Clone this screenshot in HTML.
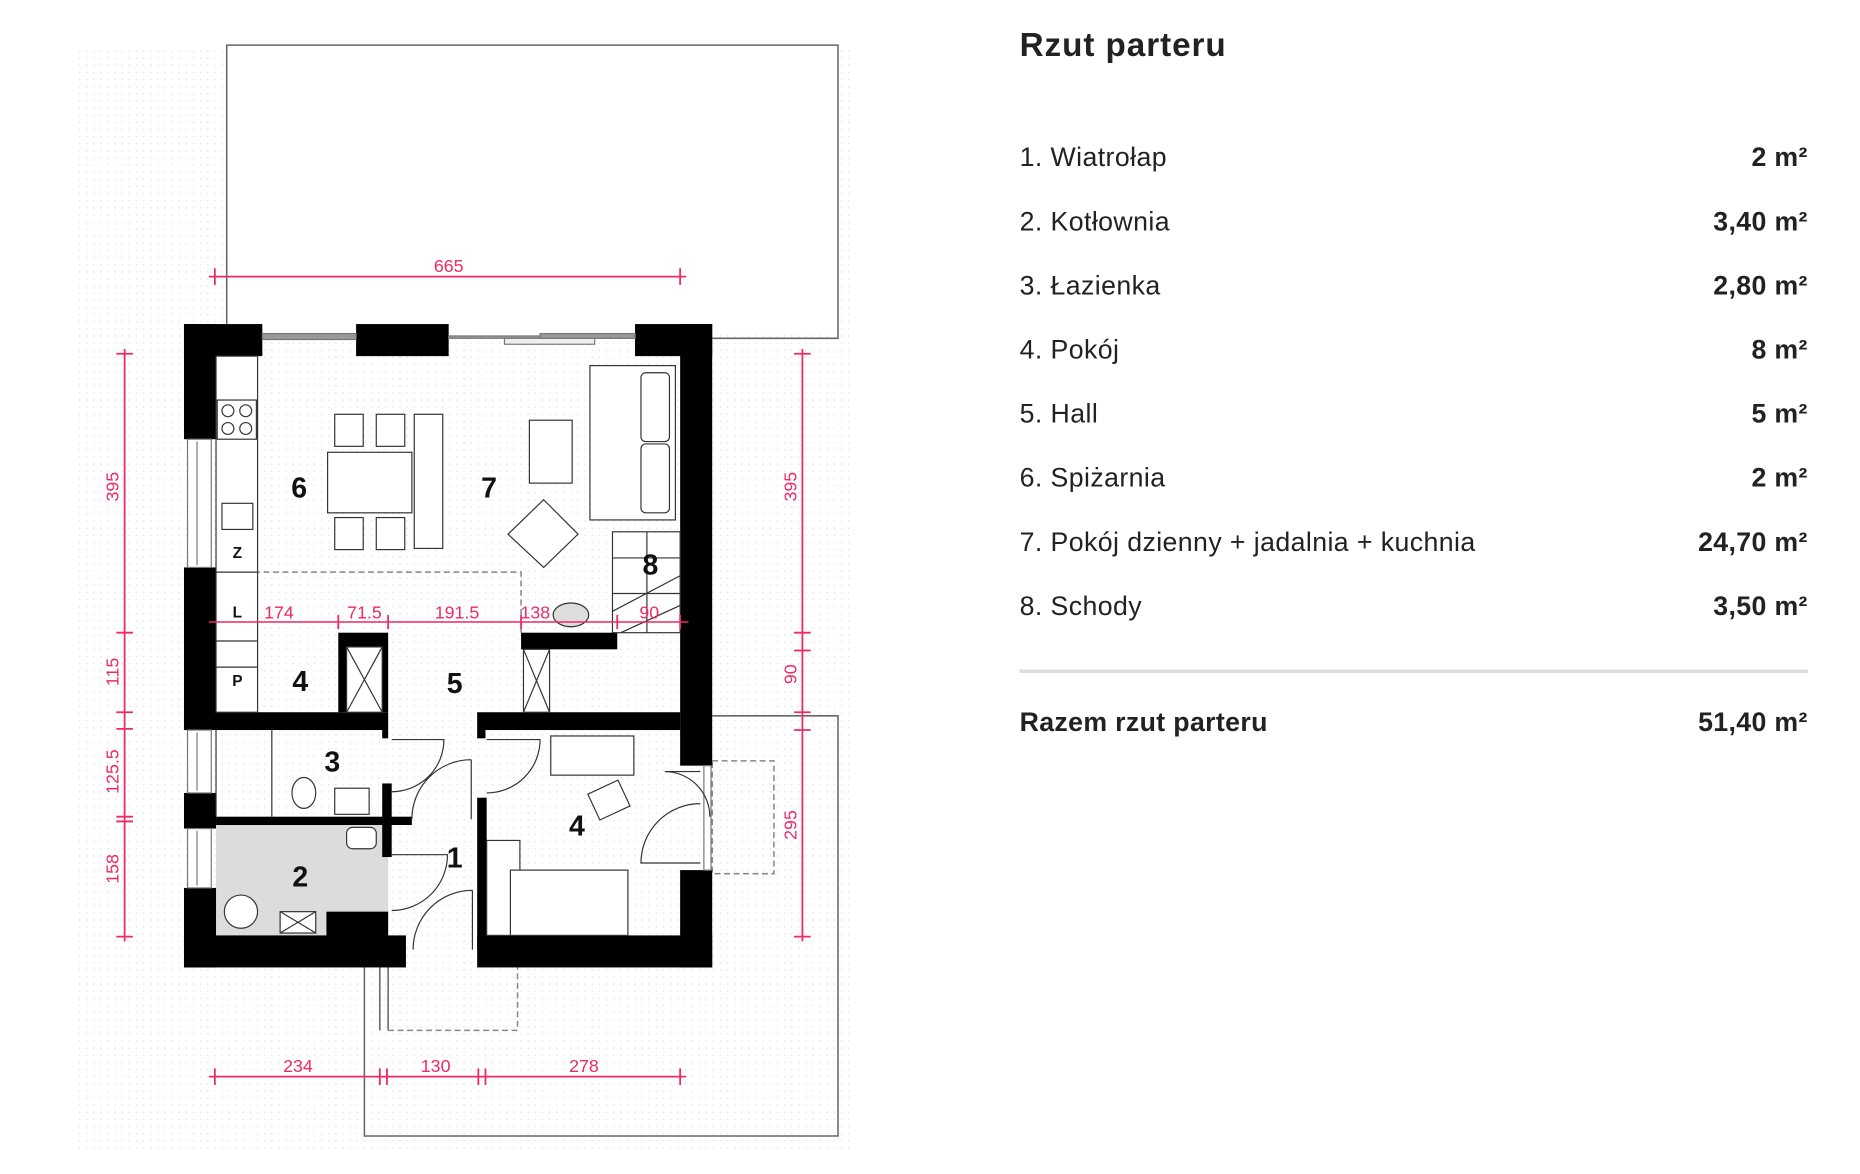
<!DOCTYPE html>
<html><head><meta charset="utf-8"><style>
html,body{margin:0;padding:0;background:#fff;width:1860px;height:1174px;overflow:hidden}
svg{display:block}
.num{font-family:"Liberation Sans",sans-serif;font-weight:bold;font-size:24px;fill:#111}
.dim{font-family:"Liberation Sans",sans-serif;font-size:15px;fill:#ec2a64}
.t{font-family:"Liberation Sans",sans-serif;font-size:22.5px;letter-spacing:0.35px;fill:#222}
.tb{font-family:"Liberation Sans",sans-serif;font-size:22.5px;letter-spacing:0.3px;fill:#222;font-weight:bold}
</style></head><body>
<svg width="1860" height="1174" viewBox="0 0 1567 989" preserveAspectRatio="none" xmlns="http://www.w3.org/2000/svg">
<defs><pattern id="dots" width="6" height="6" patternUnits="userSpaceOnUse"><circle cx="1" cy="1" r="0.6" fill="#d8dcf2"/></pattern></defs>
<rect x="65" y="40" width="655" height="930" fill="url(#dots)"/>
<rect x="191" y="38" width="515" height="240" fill="#fff"/>
<g fill="none" stroke="#666" stroke-width="1.3">
<polyline points="191,273 191,38 706,38 706,285 600,285"/>
<polyline points="600,603 706,603 706,957 307,957 307,815"/>
<line x1="320" y1="815" x2="320" y2="868"/><line x1="327" y1="815" x2="327" y2="868"/>
</g>
<g fill="none" stroke="#888" stroke-width="1.3" stroke-dasharray="5,3">
<polyline points="327,868 436,868 436,815"/>
<rect x="600" y="641" width="52" height="95"/>
<polyline points="182,482 439,482 439,533"/>
</g>
<rect x="182" y="695" width="145" height="93" fill="#dcdcdc"/>
<g fill="#000">
<rect x="155" y="273" width="27" height="97"/>
<rect x="155" y="478" width="27" height="137"/>
<rect x="155" y="668" width="27" height="30"/>
<rect x="155" y="748" width="27" height="67"/>
<rect x="155" y="273" width="66" height="27"/>
<rect x="300" y="273" width="78" height="27"/>
<rect x="535" y="273" width="65" height="27"/>
<rect x="573" y="273" width="27" height="372"/>
<rect x="573" y="733" width="27" height="82"/>
<rect x="155" y="788" width="187" height="27"/>
<rect x="402" y="788" width="198" height="27"/>
<rect x="275" y="768" width="52" height="22"/>
<rect x="155" y="600" width="172" height="15"/>
<rect x="322" y="615" width="5" height="7"/>
<rect x="402" y="600" width="171" height="15"/>
<rect x="402" y="615" width="7" height="7"/>
<rect x="285" y="533" width="42" height="67"/>
<rect x="439" y="533" width="81" height="14"/>
<rect x="182" y="688" width="165" height="7"/>
<rect x="322" y="660" width="8" height="62"/>
<rect x="402" y="672" width="8" height="128"/>
</g>
<rect x="292" y="545" width="30" height="55" fill="#fff" stroke="#333"/>
<path d="M292,545 L322,600 M322,545 L292,600" stroke="#333"/>
<rect x="441" y="547" width="22" height="53" fill="#fff" stroke="#333"/>
<path d="M441,547 L463,600 M463,547 L441,600" stroke="#333"/>
<g stroke="#777" fill="#fff" stroke-width="1">
<rect x="158" y="370" width="20" height="108"/><line x1="166" y1="372" x2="166" y2="476"/>
<rect x="158" y="615" width="20" height="53"/><line x1="166" y1="617" x2="166" y2="666"/>
<rect x="158" y="698" width="20" height="50"/><line x1="166" y1="700" x2="166" y2="746"/>
<rect x="221" y="281" width="79" height="5" fill="#999"/>
<rect x="378" y="283" width="157" height="2" fill="#999"/>
<rect x="425" y="285" width="76" height="5" fill="#eee"/>
<rect x="455" y="281" width="80" height="4" fill="#999"/>
<rect x="593" y="645" width="6" height="88"/>
</g>
<g fill="#fff" stroke="#333" stroke-width="1">
<rect x="182" y="300" width="35" height="182"/>
<rect x="183" y="337" width="33" height="33"/>
<circle cx="192" cy="346" r="5"/><circle cx="207" cy="346" r="5"/><circle cx="192" cy="361" r="5"/><circle cx="207" cy="361" r="5"/>
<rect x="187" y="424" width="26" height="22"/>
<rect x="182" y="482" width="35" height="118"/>
<line x1="182" y1="540" x2="217" y2="540"/><line x1="182" y1="562" x2="217" y2="562"/>
<rect x="276" y="381" width="71" height="51"/>
<rect x="282" y="349" width="24" height="27"/><rect x="317" y="349" width="24" height="27"/>
<rect x="282" y="436" width="24" height="27"/><rect x="317" y="436" width="24" height="27"/>
<rect x="349" y="349" width="24" height="113"/>
<rect x="446" y="354" width="36" height="53"/>
<rect x="497" y="308" width="72" height="130"/>
<rect x="540" y="314" width="24" height="58" rx="4"/><rect x="540" y="374" width="24" height="58" rx="4"/>
<polygon points="458,421 487,450 458,478 428,450"/>
<rect x="516" y="448" width="57" height="85"/>
<path d="M516,470 L573,470 M516,500 L573,500 M545,448 L545,533 M516,515 L573,485 M523,533 L573,510" fill="none"/>
<ellipse cx="481" cy="518" rx="15" ry="10" fill="#ddd"/>
<path d="M182,615 L182,688 M229,615 L229,688"/>
<ellipse cx="256" cy="668" rx="10" ry="13"/>
<rect x="282" y="664" width="29" height="22"/>
<rect x="292" y="697" width="25" height="18" rx="5"/>
<circle cx="203" cy="768" r="14"/>
<rect x="236" y="768" width="30" height="18"/><path d="M236,768 L266,786 M266,768 L236,786"/>
<rect x="464" y="620" width="70" height="33"/>
<rect x="499" y="662" width="28" height="24" transform="rotate(-25 513 674)"/>
<rect x="410" y="708" width="28" height="80"/>
<rect x="430" y="733" width="99" height="55"/>
</g>
<g fill="none" stroke="#333" stroke-width="1">
<path d="M330,623 L374,623 A44,44 0 0 1 330,667"/>
<path d="M397,640 L397,690 M397,640 A50,50 0 0 0 347,690"/>
<path d="M410,623 L455,623 A45,45 0 0 1 410,668"/>
<path d="M330,720 L377,720 A47,47 0 0 1 330,767"/>
<path d="M398,750 L398,800 M398,750 A50,50 0 0 0 348,800"/>
<path d="M590,650 L560,650 A38,38 0 0 1 598,688 M590,727 L540,727 A50,50 0 0 1 590,677"/>
</g>
<g stroke="#ec2a64" stroke-width="1.5" fill="none">
<line x1="176" y1="233" x2="578" y2="233"/><path d="M181,226v14M573,226v14"/>
<line x1="105" y1="294" x2="105" y2="793"/>
<path d="M98,298h14M98,533h14M98,600h14M98,614h14M98,688h14M98,692h14M98,789h14"/>
<line x1="676" y1="294" x2="676" y2="793"/>
<path d="M669,298h14M669,533h14M669,548h14M669,600h14M669,615h14M669,789h14"/>
<line x1="176" y1="907" x2="578" y2="907"/>
<path d="M181,900v14M320,900v14M326,900v14M403,900v14M409,900v14M573,900v14"/>
<line x1="176" y1="524" x2="580" y2="524" stroke-width="1.2"/>
<path d="M285,518v12M327,518v12M439,518v12M520,518v12M573,518v12"/>
</g>
<g class="dim">
<text x="378" y="229" text-anchor="middle">665</text>
<text x="251" y="903" text-anchor="middle">234</text>
<text x="367" y="903" text-anchor="middle">130</text>
<text x="492" y="903" text-anchor="middle">278</text>
<text x="235" y="521" text-anchor="middle">174</text>
<text x="307" y="521" text-anchor="middle">71.5</text>
<text x="385" y="521" text-anchor="middle">191.5</text>
<text x="451" y="521" text-anchor="middle">138</text>
<text x="547" y="521" text-anchor="middle">90</text>
<text transform="translate(100,410) rotate(-90)" text-anchor="middle">395</text>
<text transform="translate(100,566) rotate(-90)" text-anchor="middle">115</text>
<text transform="translate(100,650) rotate(-90)" text-anchor="middle">125.5</text>
<text transform="translate(100,732) rotate(-90)" text-anchor="middle">158</text>
<text transform="translate(671,410) rotate(-90)" text-anchor="middle">395</text>
<text transform="translate(671,568) rotate(-90)" text-anchor="middle">90</text>
<text transform="translate(671,695) rotate(-90)" text-anchor="middle">295</text>
</g>
<g class="num" text-anchor="middle">
<text x="252" y="419">6</text><text x="412" y="419">7</text><text x="548" y="484">8</text>
<text x="253" y="582">4</text><text x="383" y="584">5</text><text x="280" y="650">3</text>
<text x="383" y="731">1</text><text x="253" y="747">2</text><text x="486" y="704">4</text>
</g>
<g font-family="Liberation Sans,sans-serif" font-weight="bold" font-size="13" text-anchor="middle" fill="#111">
<text x="200" y="470">Z</text><text x="200" y="520">L</text><text x="200" y="578">P</text></g>
<text x="859" y="47" font-family="Liberation Sans,sans-serif" font-weight="bold" font-size="28" letter-spacing="0.8" fill="#222">Rzut parteru</text>
<g class="t"><text x="859" y="140">1. Wiatrołap</text><text x="859" y="194">2. Kotłownia</text><text x="859" y="248">3. Łazienka</text><text x="859" y="302">4. Pokój</text><text x="859" y="356">5. Hall</text><text x="859" y="410">6. Spiżarnia</text><text x="859" y="464">7. Pokój dzienny + jadalnia + kuchnia</text><text x="859" y="518">8. Schody</text></g>
<g class="tb" text-anchor="end"><text x="1523" y="140">2 m²</text><text x="1523" y="194">3,40 m²</text><text x="1523" y="248">2,80 m²</text><text x="1523" y="302">8 m²</text><text x="1523" y="356">5 m²</text><text x="1523" y="410">2 m²</text><text x="1523" y="464">24,70 m²</text><text x="1523" y="518">3,50 m²</text></g>
<rect x="859" y="564" width="664" height="3" fill="#ddd"/>
<text x="859" y="616" class="tb">Razem rzut parteru</text>
<text x="1523" y="616" class="tb" text-anchor="end">51,40 m²</text>
</svg>
</body></html>
